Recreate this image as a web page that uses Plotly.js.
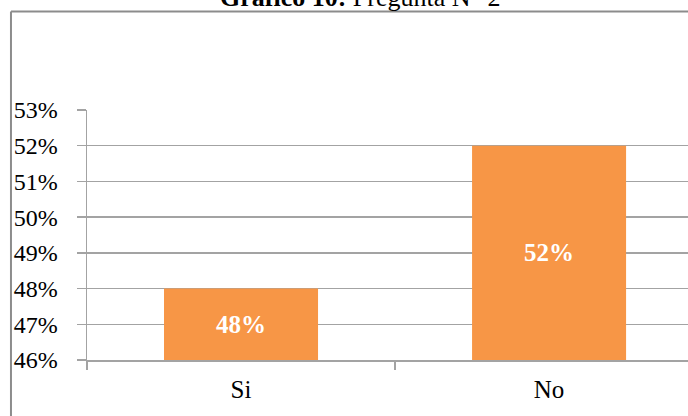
<!DOCTYPE html>
<html>
<head>
<meta charset="utf-8">
<script src="https://cdn.plot.ly/plotly-3.0.1.min.js"></script>
<style>html,body{margin:0;padding:0;background:#fff;}#chart{width:688px;height:416px;}</style>
</head>
<body>
<div id="chart"></div>
<script>
const categories = ["Si", "No"];
const values = [0.48, 0.52];
const labels = ["48%", "52%"];
const yMin = 0.46;
const yMax = 0.53;
const titleBold = "Gráfico 10:";
const titleRest = " Pregunta N° 2";

const serif = "Liberation Serif, Times New Roman, serif";
const grid = "#a3a3a3";

const trace = {
  type: "bar",
  x: categories,
  base: values.map(() => yMin),
  y: values.map(v => v - yMin),
  text: labels,
  textposition: "inside",
  insidetextanchor: "middle",
  constraintext: "none",
  textfont: {family: serif, size: 25, color: "#ffffff", weight: "bold"},
  marker: {color: "#F79646", line: {width: 0}},
  width: 0.5,
  hoverinfo: "skip"
};

const layout = {
  width: 688, height: 416,
  margin: {l: 87, r: 0, t: 110, b: 56, pad: 0},
  paper_bgcolor: "#ffffff", plot_bgcolor: "#ffffff",
  showlegend: false,
  xaxis: {
    type: "category",
    range: [-0.5, 1.451],
    showline: true, linecolor: grid, linewidth: 1.5,
    ticks: "outside", tickson: "boundaries", ticklen: 8, tickwidth: 1.5, tickcolor: grid,
    showgrid: false, zeroline: false,
    tickfont: {family: serif, size: 25, color: "#000"},
    ticklabelstandoff: 6
  },
  yaxis: {
    range: [yMin, yMax],
    dtick: 0.01, tick0: 0,
    tickformat: ".0%",
    showline: true, linecolor: grid, linewidth: 1.5,
    ticks: "outside", ticklen: 9, tickwidth: 1.5, tickcolor: grid,
    showgrid: true, gridcolor: grid, gridwidth: 1.5,
    zeroline: false,
    tickfont: {family: serif, size: 24, color: "#000"},
    ticklabelstandoff: 14
  },
  shapes: [
    {type: "line", xref: "paper", yref: "paper", x0: -0.1265, x1: 1.05, y0: 1.394, y1: 1.394, line: {color: "#8c8c8c", width: 2}},
    {type: "line", xref: "paper", yref: "paper", x0: -0.1265, x1: -0.1265, y0: 1.394, y1: -0.3, line: {color: "#8c8c8c", width: 2}}
  ],
  annotations: [{
    xref: "paper", yref: "paper", x: 0.454, y: 1.452,
    xanchor: "center", yanchor: "middle", showarrow: false,
    text: "<b>" + titleBold + "</b>" + titleRest,
    font: {family: serif, size: 26, color: "#000"}
  }]
};

Plotly.newPlot("chart", [trace], layout, {displayModeBar: false, staticPlot: true});
</script>
</body>
</html>
